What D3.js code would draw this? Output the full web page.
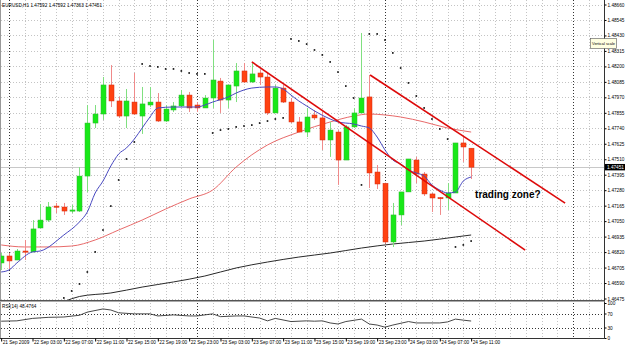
<!DOCTYPE html>
<html><head><meta charset="utf-8">
<script src="https://cdn.jsdelivr.net/npm/d3@7"></script>
<style>body{margin:0;background:#fff}svg{display:block}text{font-family:"Liberation Sans",Arial,sans-serif}</style>
</head><body><svg id="c" width="625" height="348"></svg>
<script>
// ---------- DATA ----------
const symbolTitle = "EURUSD,H1 1.47592 1.47592 1.47363 1.47451";
const rsiTitle = "RSI(14) 48.4764";
const opens = [1.46739,1.46791,1.46761,1.46828,1.46821,1.46999,1.47058,1.47162,1.47155,1.47130,1.47125,1.47385,1.47779,1.47846,1.48062,1.47943,1.47831,1.47935,1.47831,1.47913,1.47935,1.47794,1.47876,1.47906,1.47987,1.47913,1.47891,1.47965,1.48091,1.47950,1.48054,1.48166,1.48084,1.48151,1.48121,1.47854,1.48039,1.47935,1.47787,1.47712,1.47839,1.47817,1.47653,1.47712,1.47504,1.47750,1.47854,1.47973,1.47415,1.47331,1.46895,1.47096,1.47267,1.47504,1.47400,1.47252,1.47225,1.47222,1.47259,1.47631,1.47592];
const highs = [1.46813,1.46813,1.46843,1.46910,1.47058,1.47177,1.47192,1.47185,1.47185,1.47170,1.47452,1.47913,1.47913,1.48121,1.48210,1.47973,1.48032,1.48151,1.48047,1.48047,1.48002,1.47913,1.47935,1.48025,1.48010,1.47935,1.47987,1.48396,1.48114,1.48062,1.48225,1.48225,1.48233,1.48173,1.48151,1.48062,1.48062,1.47965,1.47824,1.47891,1.47876,1.47861,1.47787,1.47727,1.47764,1.47891,1.48448,1.48136,1.47467,1.47336,1.47185,1.47267,1.47512,1.47527,1.47415,1.47259,1.47229,1.47333,1.47631,1.47675,1.47592];
const lows = [1.46687,1.46687,1.46761,1.46761,1.46821,1.46999,1.47044,1.47110,1.47096,1.47110,1.47118,1.47267,1.47742,1.47802,1.47898,1.47817,1.47742,1.47839,1.47698,1.47898,1.47787,1.47787,1.47861,1.47898,1.47861,1.47861,1.47891,1.47891,1.47854,1.47891,1.47935,1.48077,1.48077,1.48062,1.47839,1.47854,1.47928,1.47779,1.47712,1.47675,1.47802,1.47579,1.47527,1.47319,1.47504,1.47742,1.47854,1.47296,1.47289,1.46882,1.46858,1.47021,1.47267,1.47333,1.47237,1.47118,1.47096,1.47133,1.47259,1.47490,1.47363];
const closes = [1.46791,1.46754,1.46828,1.46821,1.46992,1.47058,1.47155,1.47155,1.47125,1.47133,1.47385,1.47779,1.47846,1.48062,1.47943,1.47831,1.47943,1.47846,1.47921,1.47935,1.47794,1.47883,1.47906,1.47987,1.47891,1.47891,1.47965,1.48099,1.47950,1.48062,1.48166,1.48084,1.48144,1.48121,1.47854,1.48039,1.47935,1.47787,1.47712,1.47824,1.47817,1.47653,1.47727,1.47504,1.47750,1.47854,1.47965,1.47408,1.47326,1.46895,1.47096,1.47267,1.47512,1.47400,1.47252,1.47222,1.47222,1.47259,1.47631,1.47601,1.47451];

const fastMaBars = [0,1,2,4,5,8,10,11,12,13,14,15,16,17,18,19,20,22,24,25,26,27,29,30,32,34,35,36,37,38,39,40,42,43,45,46,47,48,49,50,51,52,53,54,55,56,57,58,59,60];
const fastMaValues = [1.46672,1.46687,1.46739,1.46821,1.46828,1.46947,1.47044,1.47118,1.47259,1.47348,1.47460,1.47549,1.47594,1.47660,1.47742,1.47824,1.47891,1.47898,1.47898,1.47898,1.47913,1.47935,1.47973,1.48002,1.48039,1.48047,1.48047,1.48032,1.47987,1.47943,1.47906,1.47869,1.47809,1.47787,1.47772,1.47757,1.47742,1.47675,1.47579,1.47504,1.47475,1.47430,1.47408,1.47385,1.47319,1.47281,1.47259,1.47267,1.47348,1.47378];
const slowMaBars = [0,3,6,9,12,15,18,21,24,27,30,34,38,42,45,47,49,51,54,57,60];
const slowMaValues = [1.46873,1.46858,1.46858,1.46865,1.46910,1.46984,1.47058,1.47140,1.47215,1.47281,1.47452,1.47616,1.47712,1.47787,1.47831,1.47846,1.47839,1.47824,1.47787,1.47742,1.47712];
const longMaBars = [6,10,14,18,22,26,30,34,38,42,46,50,54,58,60];
const longMaValues = [1.46397,1.46490,1.46516,1.46560,1.46598,1.46642,1.46702,1.46746,1.46783,1.46813,1.46850,1.46880,1.46902,1.46932,1.46947];

const sarStartBar = 8;
const sarValues = [1.46479,1.46531,1.46583,1.46672,1.46821,1.46984,1.47162,1.47356,1.47512,1.47638,
  1.48218,1.48203,1.48196,1.48181,1.48181,1.48166,1.48151,1.48144,1.48144,
  1.47705,1.47727,1.47735,1.47750,1.47757,1.47764,1.47779,1.47794,1.47809,1.47817,
  1.48404,1.48389,1.48366,1.48322,1.48285,1.48233,1.48158,1.48054,1.47965,
  1.47319,
  1.48441,1.48441,1.48396,1.48300,1.48188,1.48077,1.47980,1.47891,1.47809,1.47735,1.47660,
  1.46858,1.46873,1.46902];

const rsiBars = [0,2,4,6,8,10,11,13,14,15,17,19,20,22,24,25,27,28,30,31,33,34,35,37,39,40,41,42,43,44,46,47,48,49,50,52,53,55,56,57,58,59,60];
const rsiValues = [48,49,56,59,60,65,74,83,80,72,69,69,63,66,63,63,69,61,63,63,57,49,56,47,49,48,49,43,40,47,54,40,37,31,37,47,43,43,43,46,54,51,48.48];
const rsiLevels = [70, 30];
const rsiTicks = [100, 70, 30, 0];

const priceTicks = [1.46475,1.46590,1.46705,1.46820,1.46935,1.47050,1.47165,1.47280,1.47395,1.47510,1.47625,1.47740,1.47855,1.47970,1.48085,1.48200,1.48315,1.48430,1.48545,1.48660];
const timeBars = [0,4,8,12,16,20,24,28,32,36,40,44,48,52,56,60];
const timeLabels = ["21 Sep 2009","22 Sep 03:00","22 Sep 07:00","22 Sep 11:00","22 Sep 15:00","22 Sep 19:00","22 Sep 23:00","23 Sep 03:00","23 Sep 07:00","23 Sep 11:00","23 Sep 15:00","23 Sep 19:00","23 Sep 23:00","24 Sep 03:00","24 Sep 07:00","24 Sep 11:00"];
const daySeparatorBars = [1, 25, 49, 73];
const bidPrice = 1.47451;
const trendLines = [[[32, 1.48233],[66.9, 1.46835]], [[47.1, 1.48136],[72, 1.47184]]];
const annotation = {bar: 60.5, price: 1.47220, text: "trading zone?"};

// ---------- LAYOUT ----------
const plotR = 604.5, mainB = 300.5, rsiB = 338.5;
const FS = 4.7;
const x = d3.scaleLinear().domain([0, 77]).range([1.17, 604.3]);
const y = d3.scaleLinear().domain([1.46475, 1.48660]).range([298.5, 4.5]);
const yr = d3.scaleLinear().domain([0, 100]).range([338, 303]);
const svg = d3.select('#c');
const defs = svg.append('defs');
defs.append('clipPath').attr('id','cm').append('rect').attr('x',0).attr('y',0).attr('width',604).attr('height',300);
defs.append('clipPath').attr('id','cr').append('rect').attr('x',0).attr('y',301.5).attr('width',604).attr('height',37);

// grid
const grid = svg.append('g').attr('stroke','#c4c4c4').attr('stroke-width',1).attr('stroke-dasharray','1,2');
priceTicks.forEach(v => {
  const yy = Math.round(y(v)) + 0.5;
  grid.append('line').attr('x1',1).attr('x2',604).attr('y1',yy).attr('y2',yy);
});
d3.range(1, 77, 2).forEach(b => {
  const xx = Math.round(x(b)) + 0.5;
  if (daySeparatorBars.includes(b)) return;
  grid.append('line').attr('x1',xx).attr('x2',xx).attr('y1',0).attr('y2',338);
});
// rsi levels
rsiLevels.forEach(l => {
  const yy = Math.round(yr(l)) + 0.5;
  svg.append('line').attr('x1',1).attr('x2',604).attr('y1',yy).attr('y2',yy)
    .attr('stroke','#333').attr('stroke-dasharray','1,2');
});
// day separators
daySeparatorBars.forEach(b => {
  const xx = Math.round(x(b)) + 0.5;
  svg.append('line').attr('x1',xx).attr('x2',xx).attr('y1',0).attr('y2',338)
    .attr('stroke','#333').attr('stroke-dasharray','1,2');
});

// bid line
svg.append('line').attr('x1',1).attr('x2',604).attr('y1',Math.round(y(bidPrice))+0.5).attr('y2',Math.round(y(bidPrice))+0.5)
  .attr('stroke','#c8c8c8');

const main = svg.append('g').attr('clip-path','url(#cm)');

const lineFn = (bars, vals) => d3.line().x((d,i)=>x(bars[i])).y(d=>y(d)).curve(d3.curveMonotoneX)(vals);
main.append('path').attr('d', lineFn(longMaBars, longMaValues)).attr('fill','none').attr('stroke','#2a2a2a').attr('stroke-width',1);
main.append('path').attr('d', lineFn(slowMaBars, slowMaValues)).attr('fill','none').attr('stroke','#e86a6a').attr('stroke-width',1);

// candles
opens.forEach((o,i) => {
  const c = closes[i], h = highs[i], l = lows[i];
  const bull = c >= o;
  const xx = Math.round(x(i)) + 0.5;
  main.append('line').attr('x1',xx).attr('x2',xx).attr('y1',y(h)).attr('y2',y(l))
    .attr('stroke', bull ? '#80e080' : '#f08a8a').attr('stroke-width',1);
  const top = y(Math.max(o,c)), bot = y(Math.min(o,c));
  main.append('rect').attr('x',xx-2.5).attr('y',top).attr('width',5).attr('height',Math.max(1.2, bot-top))
    .attr('fill', bull ? '#18e818' : '#ff4212').attr('stroke', bull ? '#2fb82f' : '#d22a10').attr('stroke-width',0.5);
});

// fast MA (blue)
main.append('path').attr('d', lineFn(fastMaBars, fastMaValues)).attr('fill','none').attr('stroke','#4848c0').attr('stroke-width',1);

// SAR
sarValues.forEach((v,k) => {
  main.append('rect').attr('x', x(sarStartBar+k)-0.8).attr('y', y(v)-0.8).attr('width',1.6).attr('height',1.6).attr('fill','#000');
});

// trend lines
trendLines.forEach(tl => {
  main.append('line').attr('x1',x(tl[0][0])).attr('y1',y(tl[0][1])).attr('x2',x(tl[1][0])).attr('y2',y(tl[1][1]))
    .attr('stroke','#dd0a0a').attr('stroke-width',1.6);
});

// annotation
svg.append('text').attr('x', x(annotation.bar)).attr('y', y(annotation.price)).text(annotation.text)
  .attr('font-size',10).attr('font-weight','bold').attr('fill','#000');

// RSI
svg.append('g').attr('clip-path','url(#cr)').append('path')
  .attr('d', d3.line().x((d,i)=>x(rsiBars[i])).y(d=>yr(d))(rsiValues))
  .attr('fill','none').attr('stroke','#333').attr('stroke-width',0.9);

// frames
svg.append('line').attr('x1',0.5).attr('x2',0.5).attr('y1',0).attr('y2',rsiB).attr('stroke','#999');
svg.append('line').attr('x1',plotR).attr('x2',plotR).attr('y1',0).attr('y2',rsiB).attr('stroke','#333');
svg.append('line').attr('x1',0).attr('x2',plotR).attr('y1',mainB).attr('y2',mainB).attr('stroke','#555');
svg.append('line').attr('x1',0).attr('x2',plotR).attr('y1',mainB+1).attr('y2',mainB+1).attr('stroke','#aaa');
svg.append('line').attr('x1',0).attr('x2',plotR).attr('y1',rsiB).attr('y2',rsiB).attr('stroke','#333');

// axes
const ay = svg.append('g').attr('transform',`translate(${plotR},0)`)
  .call(d3.axisRight(y).tickValues(priceTicks).tickSize(2).tickPadding(1).tickFormat(d=>d.toFixed(5)));
ay.select('.domain').remove();
ay.selectAll('text').attr('font-size',FS).attr('font-family','Liberation Sans, Arial, sans-serif');

const ar = svg.append('g').attr('transform',`translate(${plotR},0)`)
  .call(d3.axisRight(yr).tickValues(rsiTicks).tickSize(2).tickPadding(1));
ar.select('.domain').remove();
ar.selectAll('text').attr('font-size',FS).attr('font-family','Liberation Sans, Arial, sans-serif');

const ax = svg.append('g').attr('transform',`translate(0,${rsiB})`)
  .call(d3.axisBottom(x).tickValues(timeBars).tickSize(3).tickPadding(1).tickFormat((d,i)=>timeLabels[i]));
ax.select('.domain').remove();
ax.selectAll('text').attr('font-size',FS).attr('text-anchor','start').attr('dx',1).attr('dy','0.4em')
  .attr('font-family','Liberation Sans, Arial, sans-serif');

// bid label
const by = y(bidPrice);
svg.append('rect').attr('x',605).attr('y',by-3.2).attr('width',20).attr('height',6.4).attr('fill','#000');
svg.append('text').attr('x',607).attr('y',by+1.7).text(bidPrice.toFixed(5)).attr('font-size',FS).attr('fill','#fff');

// titles
svg.append('text').attr('x',2).attr('y',7).text(symbolTitle).attr('font-size',FS).attr('fill','#000');
svg.append('text').attr('x',2).attr('y',307.8).text(rsiTitle).attr('font-size',FS).attr('fill','#000');

// tooltip
svg.append('rect').attr('x',590.5).attr('y',38.5).attr('width',26).attr('height',10).attr('fill','#ffffe1').attr('stroke','#555').attr('stroke-width',0.6);
svg.append('text').attr('x',592).attr('y',45.3).text('Vertical scale').attr('font-size',4.4)
  .attr('textLength',23).attr('lengthAdjust','spacingAndGlyphs').attr('fill','#000');
</script></body></html>
